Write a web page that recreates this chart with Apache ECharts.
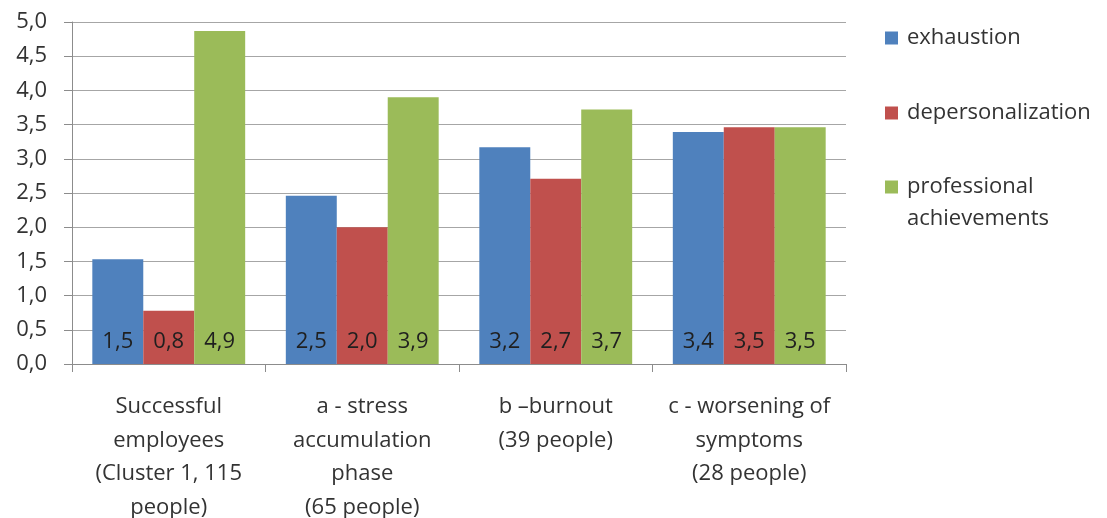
<!DOCTYPE html>
<html>
<head>
<meta charset="utf-8">
<script src="https://cdn.jsdelivr.net/npm/echarts@6/dist/echarts.min.js"></script>
<style>html,body{margin:0;padding:0;background:#fff}#c{width:1107px;height:518px}</style>
</head>
<body>
<div id="c"></div>
<script>
const categories = [
  'Successful\nemployees\n(Cluster 1, 115\npeople)',
  'a - stress\naccumulation\nphase\n(65 people)',
  'b \u2013burnout\n(39 people)',
  'c - worsening of\nsymptoms\n(28 people)'
];
const seriesNames = ['exhaustion', 'depersonalization', 'professional achievements'];
const exhaustion = [1.53, 2.46, 3.17, 3.39];
const depersonalization = [0.78, 2.0, 2.71, 3.46];
const professional = [4.87, 3.9, 3.72, 3.46];
const colors = ['#4F81BD', '#C0504D', '#9BBB59'];
const yMin = 0, yMax = 5, yStep = 0.5;

const font = '"Open Sans", "Liberation Sans", sans-serif';
const txt = '#333333';
const fmt = v => v.toFixed(1).replace('.', ',');

function mkSeries(name, data, color) {
  return {
    name: name, type: 'bar', data: data,
    barGap: '0%', barCategoryGap: '21%',
    itemStyle: { color: color },
    label: {
      show: true, position: 'insideBottom', distance: 11,
      formatter: p => fmt(p.value),
      fontFamily: font, fontSize: 22, color: '#1f1f1f'
    }
  };
}

const legendBase = {
  orient: 'vertical', left: 885, padding: 0,
  itemWidth: 13, itemHeight: 13, itemGap: 0, icon: 'rect',
  textStyle: { fontFamily: font, fontSize: 22, color: txt, lineHeight: 32, padding: [0, 0, 0, 4] }
};

const chart = echarts.init(document.getElementById('c'));
chart.setOption({
  animation: false,
  color: colors,
  grid: { left: 72, top: 22, right: 261, bottom: 154, containLabel: false, outerBoundsMode: 'none' },
  legend: [
    Object.assign({}, legendBase, { top: 22, data: [seriesNames[0]] }),
    Object.assign({}, legendBase, { top: 97, data: [seriesNames[1]] }),
    Object.assign({}, legendBase, { top: 139, data: [seriesNames[2]],
      formatter: () => ' \nprofessional\nachievements' })
  ],
  xAxis: {
    type: 'category', data: categories,
    axisLine: { lineStyle: { color: '#8c8c8c', width: 1 } },
    axisTick: { show: true, length: 8, lineStyle: { color: '#8c8c8c' } },
    axisLabel: { interval: 0, margin: 26, fontFamily: font, fontSize: 22, color: txt, lineHeight: 33.5 }
  },
  yAxis: {
    type: 'value', min: yMin, max: yMax, interval: yStep,
    axisLine: { show: true, lineStyle: { color: '#8c8c8c' } },
    axisTick: { show: true, length: 8, lineStyle: { color: '#8c8c8c' } },
    splitLine: { lineStyle: { color: '#a6a6a6', width: 1 } },
    axisLabel: { margin: 25, fontFamily: font, fontSize: 22, color: txt, formatter: v => fmt(v) }
  },
  series: [
    mkSeries(seriesNames[0], exhaustion, colors[0]),
    mkSeries(seriesNames[1], depersonalization, colors[1]),
    mkSeries(seriesNames[2], professional, colors[2])
  ]
});
</script>
</body>
</html>
